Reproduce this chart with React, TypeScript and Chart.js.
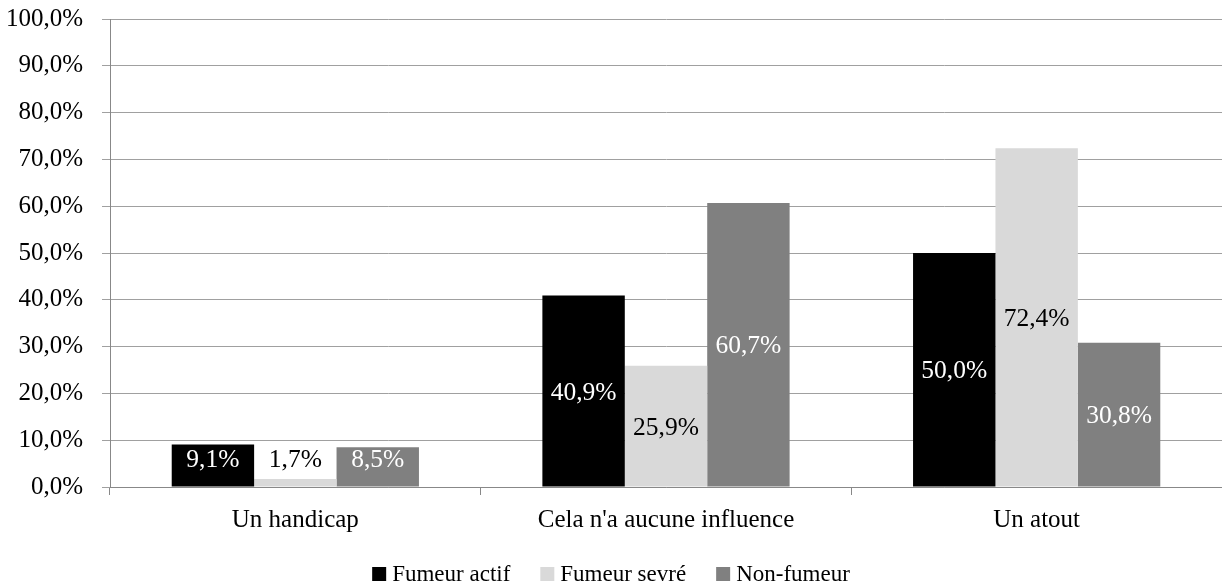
import React, { useEffect, useRef } from "react";
import { Chart, registerables } from "chart.js";

Chart.register(...registerables);

const categories = ["Un handicap", "Cela n'a aucune influence", "Un atout"];
const seriesNames = ["Fumeur actif", "Fumeur sevré", "Non-fumeur"];
const fumeurActif = [9.1, 40.9, 50.0];
const fumeurSevre = [1.7, 25.9, 72.4];
const nonFumeur = [8.5, 60.7, 30.8];
const barColors = ["#000000", "#d9d9d9", "#808080"];
const labelColors = ["#ffffff", "#000000", "#ffffff"];

const FONT = '"Liberation Serif", "Times New Roman", serif';
const fmt = (v: number) => v.toFixed(1).replace(".", ",") + "%";

const dataLabelPlugin = {
  id: "dataLabels",
  afterDatasetsDraw(chart: any) {
    const ctx = chart.ctx;
    ctx.save();
    ctx.font = `25.5px ${FONT}`;
    ctx.textAlign = "center";
    ctx.textBaseline = "middle";
    chart.data.datasets.forEach((ds: any, di: number) => {
      const meta = chart.getDatasetMeta(di);
      meta.data.forEach((el: any, i: number) => {
        const base = el.base;
        let cy = (el.y + base) / 2 + 2;
        cy = Math.min(cy, base - 26);
        ctx.fillStyle = labelColors[di];
        ctx.fillText(fmt(ds.data[i]), el.x, cy);
      });
    });
    ctx.restore();
  },
};

const legendPlugin = {
  id: "customLegend",
  afterDraw(chart: any) {
    const ctx = chart.ctx;
    ctx.save();
    ctx.font = `23px ${FONT}`;
    ctx.textBaseline = "middle";
    ctx.textAlign = "left";
    const box = 14;
    const gap = 6;
    const itemGap = 30;
    const widths = seriesNames.map((n) => box + gap + ctx.measureText(n).width);
    const total = widths.reduce((a, b) => a + b, 0) + itemGap * (seriesNames.length - 1);
    let x = 611 - total / 2;
    const cy = 574;
    seriesNames.forEach((n, i) => {
      ctx.fillStyle = barColors[i];
      ctx.fillRect(x, cy - box / 2, box, box);
      ctx.fillStyle = "#000000";
      ctx.fillText(n, x + box + gap, cy + 1);
      x += widths[i] + itemGap;
    });
    ctx.restore();
  },
};

export default function App() {
  const ref = useRef<HTMLCanvasElement>(null);
  useEffect(() => {
    if (!ref.current) return;
    const chart = new Chart(ref.current, {
      type: "bar",
      data: {
        labels: categories,
        datasets: [
          { label: seriesNames[0], data: fumeurActif, backgroundColor: barColors[0] },
          { label: seriesNames[1], data: fumeurSevre, backgroundColor: barColors[1] },
          { label: seriesNames[2], data: nonFumeur, backgroundColor: barColors[2] },
        ],
      },
      options: {
        animation: false,
        responsive: false,
        maintainAspectRatio: false,
        layout: { padding: { top: 19, right: -6, bottom: 39, left: 0 } },
        datasets: { bar: { categoryPercentage: 0.667, barPercentage: 1 } },
        plugins: {
          legend: { display: false },
          tooltip: { enabled: false },
        },
        scales: {
          x: {
            grid: {
              offset: true,
              drawOnChartArea: false,
              drawTicks: true,
              tickLength: 8,
              color: "#888888",
            },
            border: { color: "#888888" },
            ticks: { color: "#000000", font: { family: FONT, size: 25 }, padding: 10 },
          },
          y: {
            min: 0,
            max: 100,
            afterFit: (scale: any) => {
              scale.width = 110;
              scale.paddingTop = 0;
              scale.paddingBottom = 0;
            },
            ticks: {
              stepSize: 10,
              color: "#000000",
              font: { family: FONT, size: 25 },
              padding: 19,
              callback: (v: any) => fmt(Number(v)),
            },
            grid: { color: "#a0a0a0", tickLength: 8 },
            border: { color: "#888888" },
          },
        },
      },
      plugins: [dataLabelPlugin, legendPlugin],
    });
    return () => chart.destroy();
  }, []);
  return (
    <div style={{ position: "fixed", left: 0, top: 0, width: 1222, height: 584, background: "#fff" }}>
      <canvas ref={ref} width={1222} height={584} style={{ display: "block" }} />
    </div>
  );
}
